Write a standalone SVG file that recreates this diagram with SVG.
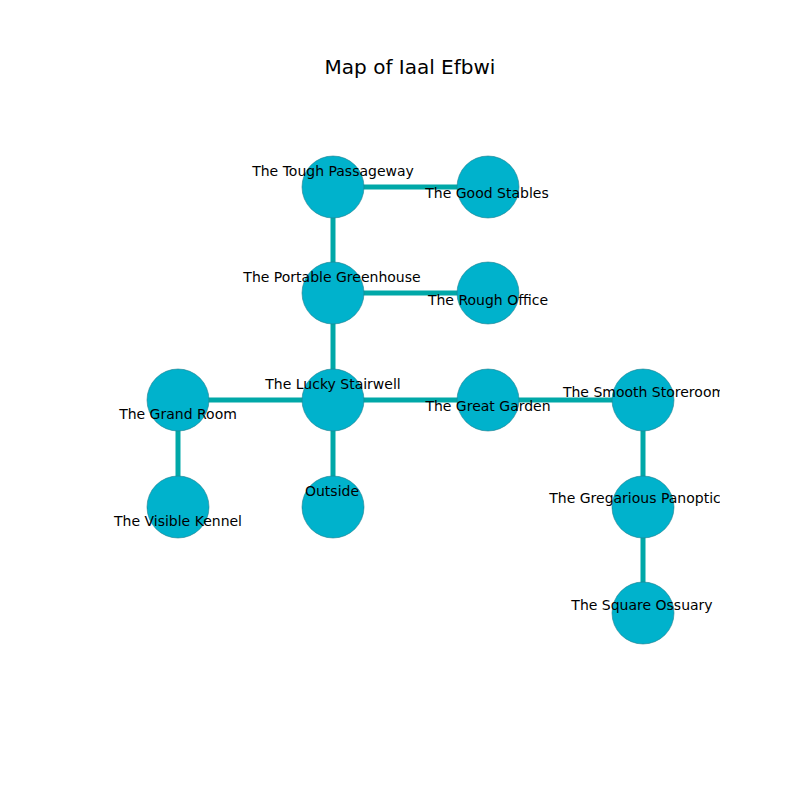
<svg xmlns="http://www.w3.org/2000/svg" width="800" height="800" viewBox="0 0 800 800">
<defs>
<clipPath id="ax"><rect x="80" y="80" width="640" height="640"/></clipPath>
</defs>
<style>
.e{stroke:#00a8a8;stroke-width:5;fill:none}
.n{fill:#00b2cc;stroke:#22808f;stroke-width:0.6}
.l{font-family:"DejaVu Sans",sans-serif;font-size:14px;fill:#000;text-anchor:middle}
.t{font-family:"DejaVu Sans",sans-serif;font-size:20px;fill:#000;text-anchor:middle}
</style>
<rect width="800" height="800" fill="#fff"/>
<text class="t" x="410" y="74">Map of Iaal Efbwi</text>
<g id="connectors">
<line class="e" x1="333" y1="187" x2="488" y2="187"/>
<line class="e" x1="333" y1="187" x2="333" y2="293"/>
<line class="e" x1="333" y1="293" x2="488" y2="293"/>
<line class="e" x1="333" y1="293" x2="333" y2="400"/>
<line class="e" x1="178" y1="400" x2="643" y2="400"/>
<line class="e" x1="178" y1="400" x2="178" y2="507"/>
<line class="e" x1="333" y1="400" x2="333" y2="507"/>
<line class="e" x1="643" y1="400" x2="643" y2="613"/>
</g>
<g clip-path="url(#ax)">
<g id="tough-passageway"><circle class="n" cx="333" cy="187" r="31"/><text class="l" x="333" y="176">The Tough Passageway</text></g>
<g id="good-stables"><circle class="n" cx="488" cy="187" r="31"/><text class="l" x="487" y="198">The Good Stables</text></g>
<g id="portable-greenhouse"><circle class="n" cx="333" cy="293" r="31"/><text class="l" x="332" y="282">The Portable Greenhouse</text></g>
<g id="rough-office"><circle class="n" cx="488" cy="293" r="31"/><text class="l" x="488" y="305">The Rough Office</text></g>
<g id="grand-room"><circle class="n" cx="178" cy="400" r="31"/><text class="l" x="178" y="419">The Grand Room</text></g>
<g id="lucky-stairwell"><circle class="n" cx="333" cy="400" r="31"/><text class="l" x="333" y="389">The Lucky Stairwell</text></g>
<g id="great-garden"><circle class="n" cx="488" cy="400" r="31"/><text class="l" x="488" y="411">The Great Garden</text></g>
<g id="smooth-storeroom"><circle class="n" cx="643" cy="400" r="31"/><text class="l" x="644" y="397">The Smooth Storeroom</text></g>
<g id="visible-kennel"><circle class="n" cx="178" cy="507" r="31"/><text class="l" x="178" y="526">The Visible Kennel</text></g>
<g id="outside"><circle class="n" cx="333" cy="507" r="31"/><text class="l" x="332" y="496">Outside</text></g>
<g id="gregarious-panoptic"><circle class="n" cx="643" cy="507" r="31"/><text class="l" x="635" y="503">The Gregarious Panoptic</text></g>
<g id="square-ossuary"><circle class="n" cx="643" cy="613" r="31"/><text class="l" x="642" y="610">The Square Ossuary</text></g>
</g>
</svg>
